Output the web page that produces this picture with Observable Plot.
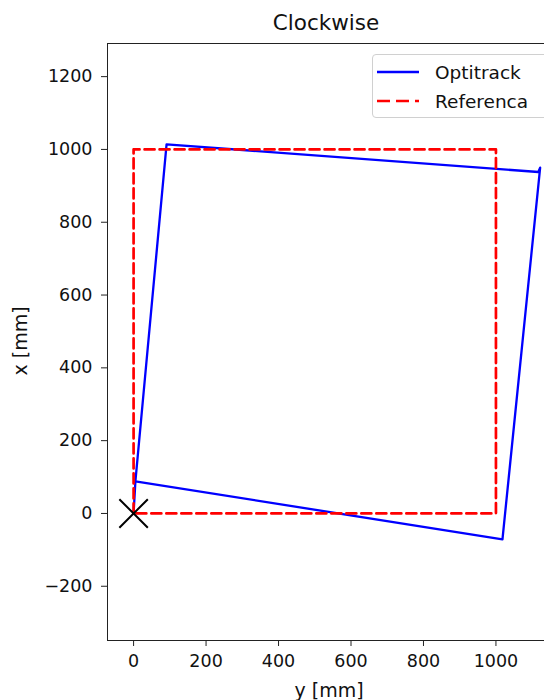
<!DOCTYPE html>
<html>
<head>
<meta charset="utf-8">
<script src="https://cdn.jsdelivr.net/npm/d3@7"></script>
<script src="https://cdn.jsdelivr.net/npm/@observablehq/plot@0.6"></script>
<style>
  html, body { margin: 0; padding: 0; background: #fff; }
  #wrap { position: relative; width: 544px; height: 700px; overflow: hidden; font-family: "DejaVu Sans", sans-serif; color: #111; }
  #title { position: absolute; top: 10px; left: 226px; width: 200px; text-align: center; font-size: 21.5px; }
  #ylab { position: absolute; left: 20px; top: 341px; transform: translate(-50%, -50%) rotate(-90deg); font-size: 19px; white-space: nowrap; }
  #xlab { position: absolute; left: 329px; top: 679px; transform: translateX(-50%); font-size: 19px; white-space: nowrap; }
  #legend { position: absolute; left: 372px; top: 54px; width: 190px; height: 62px; border: 1px solid #d0d0d0; border-radius: 4px; background: rgba(255,255,255,0.85); font-size: 18.5px; }
  .item { position: absolute; left: 4px; height: 24px; display: flex; align-items: center; }
  .item svg { margin-right: 16px; }
</style>
</head>
<body>
<div id="wrap">
  <div id="chart"></div>
  <div id="title">Clockwise</div>
  <div id="ylab">x [mm]</div>
  <div id="xlab">y [mm]</div>
  <div id="legend"></div>
</div>
<script>
// Reference square (y [mm] horizontal, x [mm] vertical)
const refY = [0, 0, 1000, 1000, 0];
const refX = [0, 1000, 1000, 0, 0];
// Optitrack measured path
const optiY = [0, 5, 91, 1117, 1122, 1018, 5];
const optiX = [0, 88, 1014, 938, 950, -71, 88];
// Start marker
const startY = [0];
const startX = [0];
// Ticks
const xTicks = [0, 200, 400, 600, 800, 1000];
const yTicks = [-200, 0, 200, 400, 600, 800, 1000, 1200];
const xDomain = [-72, 1134];
const yDomain = [-349, 1291];
// Legend
const seriesNames = ["Optitrack", "Referenca"];
const seriesColors = ["#0000ff", "#ff0000"];

const ref = refY.map((v, i) => ({y: v, x: refX[i]}));
const opti = optiY.map((v, i) => ({y: v, x: optiX[i]}));
const start = startY.map((v, i) => ({y: v, x: startX[i]}));
const fmt = d => d < 0 ? "\u2212" + Math.abs(d) : String(d);

const chart = Plot.plot({
  width: 544,
  height: 700,
  marginTop: 43,
  marginBottom: 60,
  marginLeft: 107,
  marginRight: 0,
  style: {fontFamily: "DejaVu Sans, sans-serif", fontSize: "17.5px", color: "#111", background: "#fff"},
  x: {domain: xDomain, label: null},
  y: {domain: yDomain, label: null},
  marks: [
    Plot.frame({anchor: "left", stroke: "#222", strokeWidth: 1}),
    Plot.frame({anchor: "top", stroke: "#222", strokeWidth: 1}),
    Plot.frame({anchor: "bottom", stroke: "#222", strokeWidth: 1}),
    Plot.axisX({ticks: xTicks, tickFormat: fmt, tickSize: 6, tickPadding: 8, label: null, stroke: "#222"}),
    Plot.axisY({ticks: yTicks, tickFormat: fmt, tickSize: 6, tickPadding: 9, label: null, stroke: "#222"}),
    Plot.line(opti, {x: "y", y: "x", stroke: seriesColors[0], strokeWidth: 2.3}),
    Plot.line(ref, {x: "y", y: "x", stroke: seriesColors[1], strokeWidth: 2.7, strokeDasharray: "10,5"}),
    Plot.dot(start, {x: "y", y: "x", symbol: "times", r: 13, stroke: "#000", strokeWidth: 2})
  ]
});
document.getElementById("chart").appendChild(chart);

const legend = document.getElementById("legend");
seriesNames.forEach((name, i) => {
  const item = document.createElement("div");
  item.className = "item";
  item.style.top = (5 + i * 29) + "px";
  const dash = i === 1 ? 'stroke-dasharray="13,6"' : "";
  const w = i === 1 ? 2.7 : 2.3;
  item.innerHTML = `<svg width="42" height="10"><line x1="0" y1="5" x2="42" y2="5" stroke="${seriesColors[i]}" stroke-width="${w}" ${dash}/></svg><span>${name}</span>`;
  legend.appendChild(item);
});
</script>
</body>
</html>
